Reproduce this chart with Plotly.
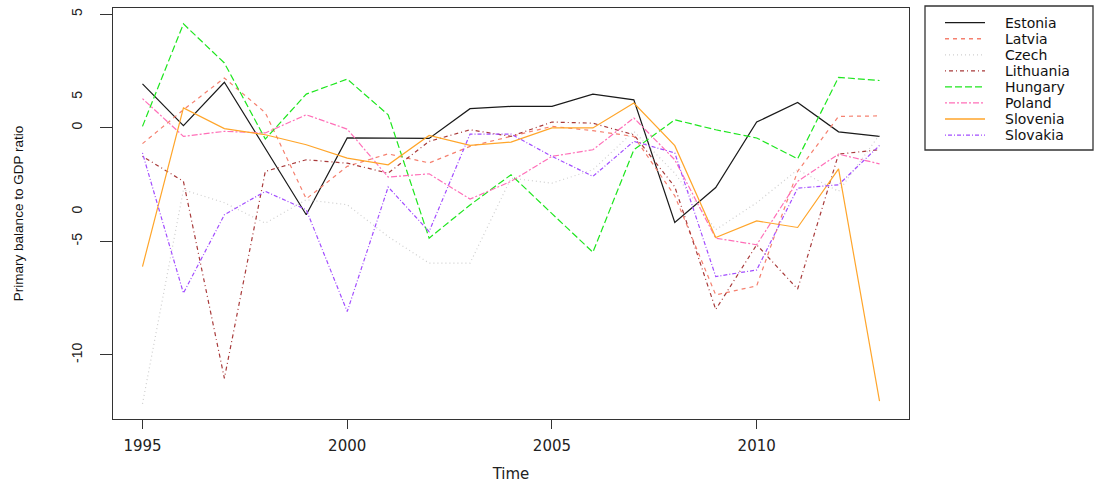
import plotly.graph_objects as go

years = list(range(1995, 2014))
countries = ["Estonia", "Latvia", "Czech", "Lithuania", "Hungary", "Poland", "Slovenia", "Slovakia"]

estonia = [1.93, 0.09, 2.0, -0.9, -3.83, -0.45, -0.47, -0.47, 0.84, 0.94, 0.94, 1.48, 1.23, -4.17, -2.63, 0.25, 1.11, -0.18, -0.38]
latvia = [-0.7, 0.79, 2.19, 0.66, -3.13, -1.7, -1.15, -1.55, -0.82, -0.38, 0.06, -0.13, -0.38, -3.0, -7.36, -6.96, -1.92, 0.5, 0.52]
czech = [-12.15, -2.73, -3.3, -4.2, -3.17, -3.39, -4.79, -5.96, -5.96, -2.22, -2.44, -1.85, -0.16, -2.0, -4.49, -3.3, -1.85, -2.8, -0.31]
lithuania = [-1.26, -2.36, -11.03, -1.92, -1.41, -1.56, -2.0, -0.6, -0.09, -0.38, 0.25, 0.2, -0.31, -2.6, -8.0, -5.15, -7.1, -1.16, -0.97]
hungary = [0.06, 4.57, 2.85, -0.5, 1.48, 2.14, 0.57, -4.86, -3.4, -2.07, -3.78, -5.48, -0.97, 0.35, -0.09, -0.45, -1.37, 2.22, 2.08]
poland = [1.28, -0.38, -0.16, -0.23, 0.57, -0.06, -2.17, -2.03, -3.14, -2.36, -1.26, -0.97, 0.43, -1.41, -4.86, -5.15, -2.36, -1.16, -1.59]
slovenia = [-6.11, 0.87, -0.04, -0.31, -0.75, -1.34, -1.63, -0.34, -0.78, -0.63, -0.01, -0.01, 1.09, -0.79, -4.83, -4.1, -4.39, -1.81, -12.03]
slovakia = [-1.11, -7.28, -3.83, -2.8, -3.61, -8.09, -2.61, -4.57, -0.28, -0.28, -1.26, -2.14, -0.6, -1.11, -6.55, -6.26, -2.66, -2.51, -0.78]

series = [estonia, latvia, czech, lithuania, hungary, poland, slovenia, slovakia]

colors = ["#1a1a1a", "#f5806f", "#cfcfcf", "#a83a3a", "#1ee61e", "#ff6fb8", "#ffa52a", "#a24dff"]
dashes = ["solid", "4px,4px", "1px,3px", "1px,3px,4px,3px", "7px,3px", "2px,2px,6px,2px", "solid", "1px,2px,4px,2px"]

x_ticks = [1995, 2000, 2005, 2010]
y_ticks = [-10, -5, 0, 5]
y_ticktext = ["-10", "-5", "0", "5"]
extra_y_labels = [("5", 1.45), ("0", -3.6)]

W, H = 1097, 483
ML, MR, MT, MB = 113, 188, 8, 64
PW, PH = W - ML - MR, H - MT - MB

fig = go.Figure()
for name, vals, col, dsh in zip(countries, series, colors, dashes):
    fig.add_trace(go.Scatter(x=years, y=vals, mode="lines", name=name,
                             line=dict(color=col, width=1.2, dash=dsh),
                             showlegend=False))

def px_x(p):
    return (p - ML) / PW

def px_y(p):
    return (H - MB - p) / PH

# legend drawn with shapes/annotations in paper coords
shapes = [dict(type="rect", xref="paper", yref="paper",
               x0=px_x(925), x1=px_x(1093), y0=px_y(150), y1=px_y(6),
               line=dict(color="#333333", width=1.3), fillcolor="white", layer="above")]
annotations = []
for i, (name, col, dsh) in enumerate(zip(countries, colors, dashes)):
    yc = 22.7 + 16.05 * i
    shapes.append(dict(type="line", xref="paper", yref="paper",
                       x0=px_x(945), x1=px_x(985), y0=px_y(yc), y1=px_y(yc),
                       line=dict(color=col, width=1.3, dash=dsh), layer="above"))
    annotations.append(dict(text=name, xref="paper", yref="paper", x=px_x(1003), y=px_y(yc),
                            xanchor="left", yanchor="middle", showarrow=False,
                            font=dict(family="DejaVu Sans", size=14, color="#111111")))

for txt, val in extra_y_labels:
    annotations.append(dict(text=txt, xref="paper", yref="y", x=px_x(77), y=val,
                            xanchor="center", yanchor="middle", showarrow=False, textangle=-90,
                            font=dict(family="Liberation Sans", size=14, color="#222222")))

fig.update_layout(
    width=W, height=H,
    margin=dict(l=ML, r=MR, t=MT, b=MB, autoexpand=False),
    paper_bgcolor="white", plot_bgcolor="white",
    showlegend=False,
    shapes=shapes, annotations=annotations,
    xaxis=dict(range=[1994.28, 2013.72], tickvals=x_ticks, ticks="outside", ticklen=9,
               tickcolor="#333333", showgrid=False, zeroline=False, ticklabelstandoff=4,
               showline=True, mirror=True, linecolor="#333333", linewidth=1.3,
               tickfont=dict(family="DejaVu Sans", size=15, color="#222222"),
               title=dict(text="Time", standoff=16,
                          font=dict(family="DejaVu Sans", size=15, color="#222222"))),
    yaxis=dict(range=[-12.82, 5.27], tickvals=y_ticks, ticktext=y_ticktext, ticks="outside",
               ticklen=12, tickcolor="#333333", tickangle=-90, ticklabelstandoff=12,
               showgrid=False, zeroline=False,
               showline=True, mirror=True, linecolor="#333333", linewidth=1.3,
               tickfont=dict(family="Liberation Sans", size=14, color="#222222"),
               title=dict(text="Primary balance to GDP ratio", standoff=42,
                          font=dict(family="Liberation Sans", size=13.5, color="#111111"))),
)

fig.write_html("out.html", config={"displayModeBar": False},
               post_script="document.body.style.margin='0';document.body.style.overflow='hidden';")
